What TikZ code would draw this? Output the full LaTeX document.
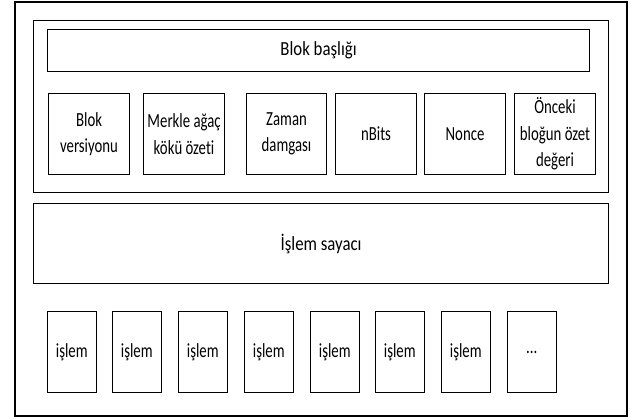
\documentclass[tikz,border=0pt]{standalone}
\usepackage{fontspec}
\setmainfont{Carlito}[FakeStretch=0.74, Ligatures={NoCommon}]
\newfontfamily\widefont{Carlito}[FakeStretch=0.84, Ligatures={NoCommon}]
\begin{document}
\begin{tikzpicture}[x=1pt,y=-1pt,
  frame/.style={draw=black, line width=1.1pt, rectangle, inner sep=0pt, anchor=north west},
  lbl/.style={align=center, font=\fontsize{20}{26.5}\selectfont},
  widelbl/.style={align=center, font=\widefont\fontsize{20}{26.5}\selectfont}]
\useasboundingbox (0,0) rectangle (630,419);
% outer
\node[frame, line width=1.9pt, minimum width=612pt, minimum height=414pt] (outer) at (14,1.5) {};
% header group
\node[frame, minimum width=575pt, minimum height=172pt] (hdr) at (33,20) {};
\node[frame, minimum width=542pt, minimum height=42pt] (title) at (47,29) {};
\node[widelbl] (titletext) at (title.center) {Blok başlığı};
% header fields
\foreach \n/\x/\w/\t in {f1/48/81/{Blok\\versiyonu},
                         f2/143/81/{Merkle ağaç\\kökü özeti},
                         f3/246/80/{Zaman\\damgası},
                         f4/335/81/{nBits},
                         f5/424/81/{Nonce},
                         f6/514/81/{Önceki\\bloğun özet\\değeri}}{
  \node[frame, minimum width=\w pt, minimum height=81pt] (\n) at (\x,93) {};
  \node[lbl] (\n t) at (\n.center) {\t};
}
% transaction counter
\node[frame, minimum width=575pt, minimum height=80pt] (cnt) at (33,203) {};
\node[widelbl] (cntt) at (cnt.center) {İşlem sayacı};
% transactions
\foreach \n/\x/\t in {t1/47/işlem, t2/112/işlem, t3/178/işlem, t4/244/işlem,
                      t5/310/işlem, t6/375/işlem, t7/441/işlem, t8/507/{...}}{
  \node[frame, minimum width=48.5pt, minimum height=81pt] (\n) at (\x,311) {};
  \node[lbl] (\n t) at (\n.center) {\t};
}
\end{tikzpicture}
\end{document}
